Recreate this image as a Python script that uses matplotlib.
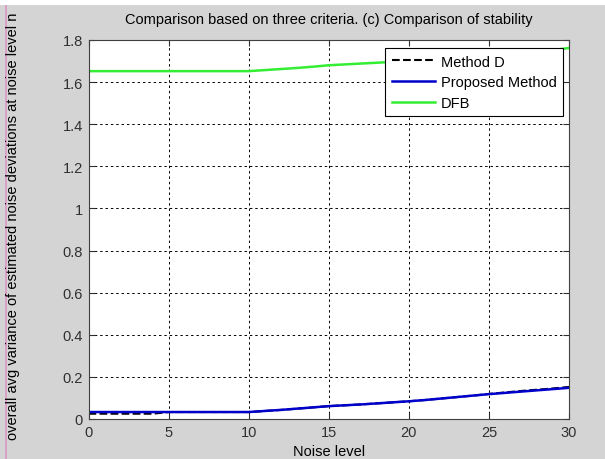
import numpy as np
import matplotlib
matplotlib.use('Agg')
import matplotlib.pyplot as plt
from matplotlib.patches import Rectangle

noise = np.arange(0, 31)
method_d = [0.025, 0.025, 0.025, 0.025, 0.025, 0.033, 0.033, 0.033, 0.033, 0.033,
            0.033, 0.038, 0.043, 0.049, 0.055, 0.061, 0.065, 0.069, 0.074, 0.079,
            0.084, 0.090, 0.097, 0.104, 0.111, 0.119, 0.126, 0.133, 0.139, 0.145, 0.152]
proposed = [0.033, 0.033, 0.033, 0.033, 0.033, 0.033, 0.033, 0.033, 0.033, 0.033,
            0.033, 0.038, 0.043, 0.049, 0.055, 0.061, 0.065, 0.069, 0.074, 0.079,
            0.084, 0.090, 0.097, 0.104, 0.111, 0.118, 0.124, 0.130, 0.136, 0.142, 0.148]
dfb = [1.652, 1.652, 1.652, 1.652, 1.652, 1.652, 1.652, 1.652, 1.652, 1.652,
       1.652, 1.657, 1.662, 1.667, 1.673, 1.680, 1.684, 1.688, 1.692, 1.696,
       1.700, 1.704, 1.708, 1.712, 1.716, 1.720, 1.728, 1.736, 1.744, 1.752, 1.762]

plt.rcParams['font.family'] = ['Liberation Sans', 'DejaVu Sans']
fs = 10.5

fig = plt.figure(figsize=(6.05, 4.6), dpi=100, facecolor='#d4d4d4')
fig.patches.append(Rectangle((0, 0.988), 1, 0.012, transform=fig.transFigure,
                             facecolor='white', edgecolor='none', zorder=-1))
fig.patches.append(Rectangle((0.008, 0), 0.003, 0.988, transform=fig.transFigure,
                             facecolor='#d9a0c8', edgecolor='none', zorder=-1))
ax = fig.add_axes([0.1463, 0.087, 0.7942, 0.8239])

ax.plot(noise, method_d, color='black', ls='--', lw=1.5, label='Method D')
ax.plot(noise, proposed, color='#0000cc', lw=1.8, label='Proposed Method')
ax.plot(noise, dfb, color='#33ee33', lw=1.8, label='DFB')

ax.set_xlim(0, 30)
ax.set_ylim(0, 1.8)
ax.set_xticks([0, 5, 10, 15, 20, 25, 30])
ax.set_yticks([0, 0.2, 0.4, 0.6, 0.8, 1, 1.2, 1.4, 1.6, 1.8])
ax.set_yticklabels(['0', '0.2', '0.4', '0.6', '0.8', '1', '1.2', '1.4', '1.6', '1.8'])
ax.grid(True, color='black', ls=(0, (2.5, 3)), lw=0.7)
ax.tick_params(direction='in', top=True, right=True, length=4, colors='#303030', labelsize=fs, pad=4)
for s in ax.spines.values():
    s.set_color('#404040')

ax.set_xlabel('Noise level', fontsize=fs, labelpad=4)
ax.set_ylabel('overall avg variance of estimated noise deviations at noise level n', fontsize=fs)
ax.yaxis.set_label_coords(-0.142, 0.51)
ax.set_title('Comparison based on three criteria. (c) Comparison of stability', fontsize=fs, pad=12)

leg = ax.legend(loc='upper right', bbox_to_anchor=(0.9875, 0.979), borderaxespad=0,
                fancybox=False, framealpha=1, edgecolor='black', borderpad=0.45,
                handlelength=2.95, handletextpad=0.4, labelspacing=0.45, fontsize=fs)
leg.get_frame().set_linewidth(0.8)

fig.savefig('out.png', dpi=100, facecolor=fig.get_facecolor())
